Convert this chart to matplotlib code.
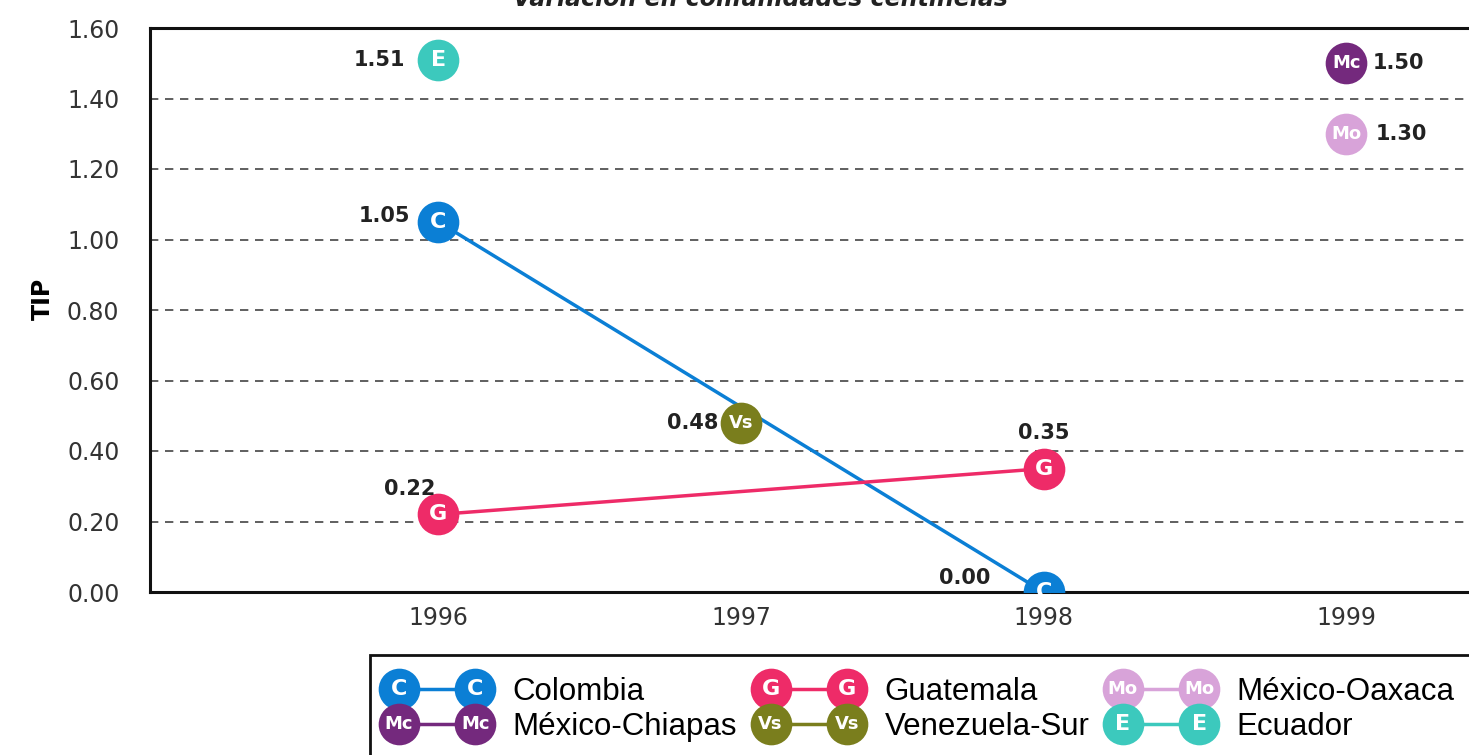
import matplotlib
matplotlib.use('Agg')
import matplotlib.pyplot as plt
from matplotlib.legend_handler import HandlerBase
from matplotlib.lines import Line2D
from matplotlib.text import Text

# data
years = [1996, 1997, 1998, 1999]
names = ['Colombia', 'México-Chiapas', 'Guatemala', 'Venezuela-Sur', 'México-Oaxaca', 'Ecuador']
letters = ['C', 'Mc', 'G', 'Vs', 'Mo', 'E']
colors = ['#0b7fd5', '#74297d', '#ee2b68', '#7a7e1d', '#d8a3d9', '#3cc9bd']

colombia_x = [1996, 1998]
colombia_y = [1.05, 0.00]
chiapas_x = [1999]
chiapas_y = [1.50]
guatemala_x = [1996, 1998]
guatemala_y = [0.22, 0.35]
venezuela_x = [1997]
venezuela_y = [0.48]
oaxaca_x = [1999]
oaxaca_y = [1.30]
ecuador_x = [1996]
ecuador_y = [1.51]

series_x = [colombia_x, chiapas_x, guatemala_x, venezuela_x, oaxaca_x, ecuador_x]
series_y = [colombia_y, chiapas_y, guatemala_y, venezuela_y, oaxaca_y, ecuador_y]

# label offsets (points) and alignment per point
label_pos = {
    ('C', 1996): (-20, 4, 'right'),
    ('C', 1998): (-38, 10, 'right'),
    ('G', 1996): (-2, 18, 'right'),
    ('G', 1998): (0, 26, 'center'),
    ('Vs', 1997): (-16, 0, 'right'),
    ('Mc', 1999): (19, 0, 'left'),
    ('Mo', 1999): (21, 0, 'left'),
    ('E', 1996): (-24, 0, 'right'),
}

MS = 30
LEG_FS = 22.5


def letter_size(l):
    return 13 if len(l) > 1 else 16


class CircleHandler(HandlerBase):
    def __init__(self, letter, color):
        super().__init__()
        self.letter = letter
        self.color = color

    def create_artists(self, legend, orig_handle, xdescent, ydescent, width, height, fontsize, trans):
        y = height / 2 - ydescent
        x0 = -xdescent + 5
        x1 = -xdescent + width - 15
        line = Line2D([x0, x1], [y, y], color=self.color, lw=2.5)
        dots = Line2D([x0, x1], [y, y], ls='', marker='o', ms=MS, color=self.color, mec='none')
        arts = [line, dots]
        for xx in (x0, x1):
            arts.append(Text(xx, y, self.letter, color='white', fontweight='bold',
                             fontsize=letter_size(self.letter), ha='center', va='center',
                             family='DejaVu Sans'))
        for a in arts:
            a.set_transform(trans)
        return arts


fig = plt.figure(figsize=(14.69, 7.55), dpi=100)
ax = fig.add_axes([150 / 1469, 1 - 592 / 755, 1 - 150 / 1469 + 0.005, (592 - 28) / 755])

handles = []
for name, l, c, xs, ys in zip(names, letters, colors, series_x, series_y):
    h, = ax.plot(xs, ys, color=c, lw=2.5, marker='o', ms=MS, mec='none', zorder=3, label=name)
    handles.append(h)
    for x, y in zip(xs, ys):
        ax.text(x, y, l, color='white', fontweight='bold', fontsize=letter_size(l),
                ha='center', va='center', zorder=4)
        dx, dy, ha = label_pos[(l, x)]
        ax.annotate('%.2f' % y, (x, y), xytext=(dx, dy), textcoords='offset points',
                    ha=ha, va='center', fontsize=15, fontweight='bold', color='#222222', zorder=5)

ax.set_xlim(1995.047, 1999.43)
ax.set_ylim(0, 1.6)
ax.set_xticks(years)
ax.set_xticklabels([str(y) for y in years])
yt = [0.0, 0.2, 0.4, 0.6, 0.8, 1.0, 1.2, 1.4, 1.6]
ax.set_yticks(yt)
ax.set_yticklabels(['%.2f' % v for v in yt])
ax.tick_params(axis='both', length=0, labelsize=17, labelcolor='#333333')
ax.tick_params(axis='y', pad=22)
ax.tick_params(axis='x', pad=10)

for v in yt[1:-1]:
    ax.axhline(v, color='#444444', lw=1.2, dashes=(5, 4), zorder=1)

for s in ['left', 'bottom', 'top']:
    ax.spines[s].set_linewidth(2.2)
    ax.spines[s].set_color('#111111')
ax.spines['right'].set_visible(False)

ax.set_ylabel('TIP', fontsize=17, fontweight='bold')
ax.yaxis.set_label_coords(-0.072, 0.52)

fig.text(0.518, 1 - 6 / 755, 'Variación en comunidades centinelas', ha='center', va='baseline',
         fontsize=17, fontweight='bold', style='italic', color='#222222')

leg = fig.legend(handles=handles, labels=names, ncol=3, loc='upper left',
                 bbox_to_anchor=(370 / 1469, 1 - 655 / 755),
                 handler_map={h: CircleHandler(l, c) for h, l, c in zip(handles, letters, colors)},
                 prop={'family': 'Liberation Sans', 'size': LEG_FS},
                 handlelength=75 / LEG_FS, handletextpad=0.53, columnspacing=0.85,
                 labelspacing=0.15, borderpad=0.7, borderaxespad=0, fancybox=False,
                 framealpha=1, edgecolor='#111111')
leg.get_frame().set_linewidth(2)

fig.savefig('out.png', dpi=100)
